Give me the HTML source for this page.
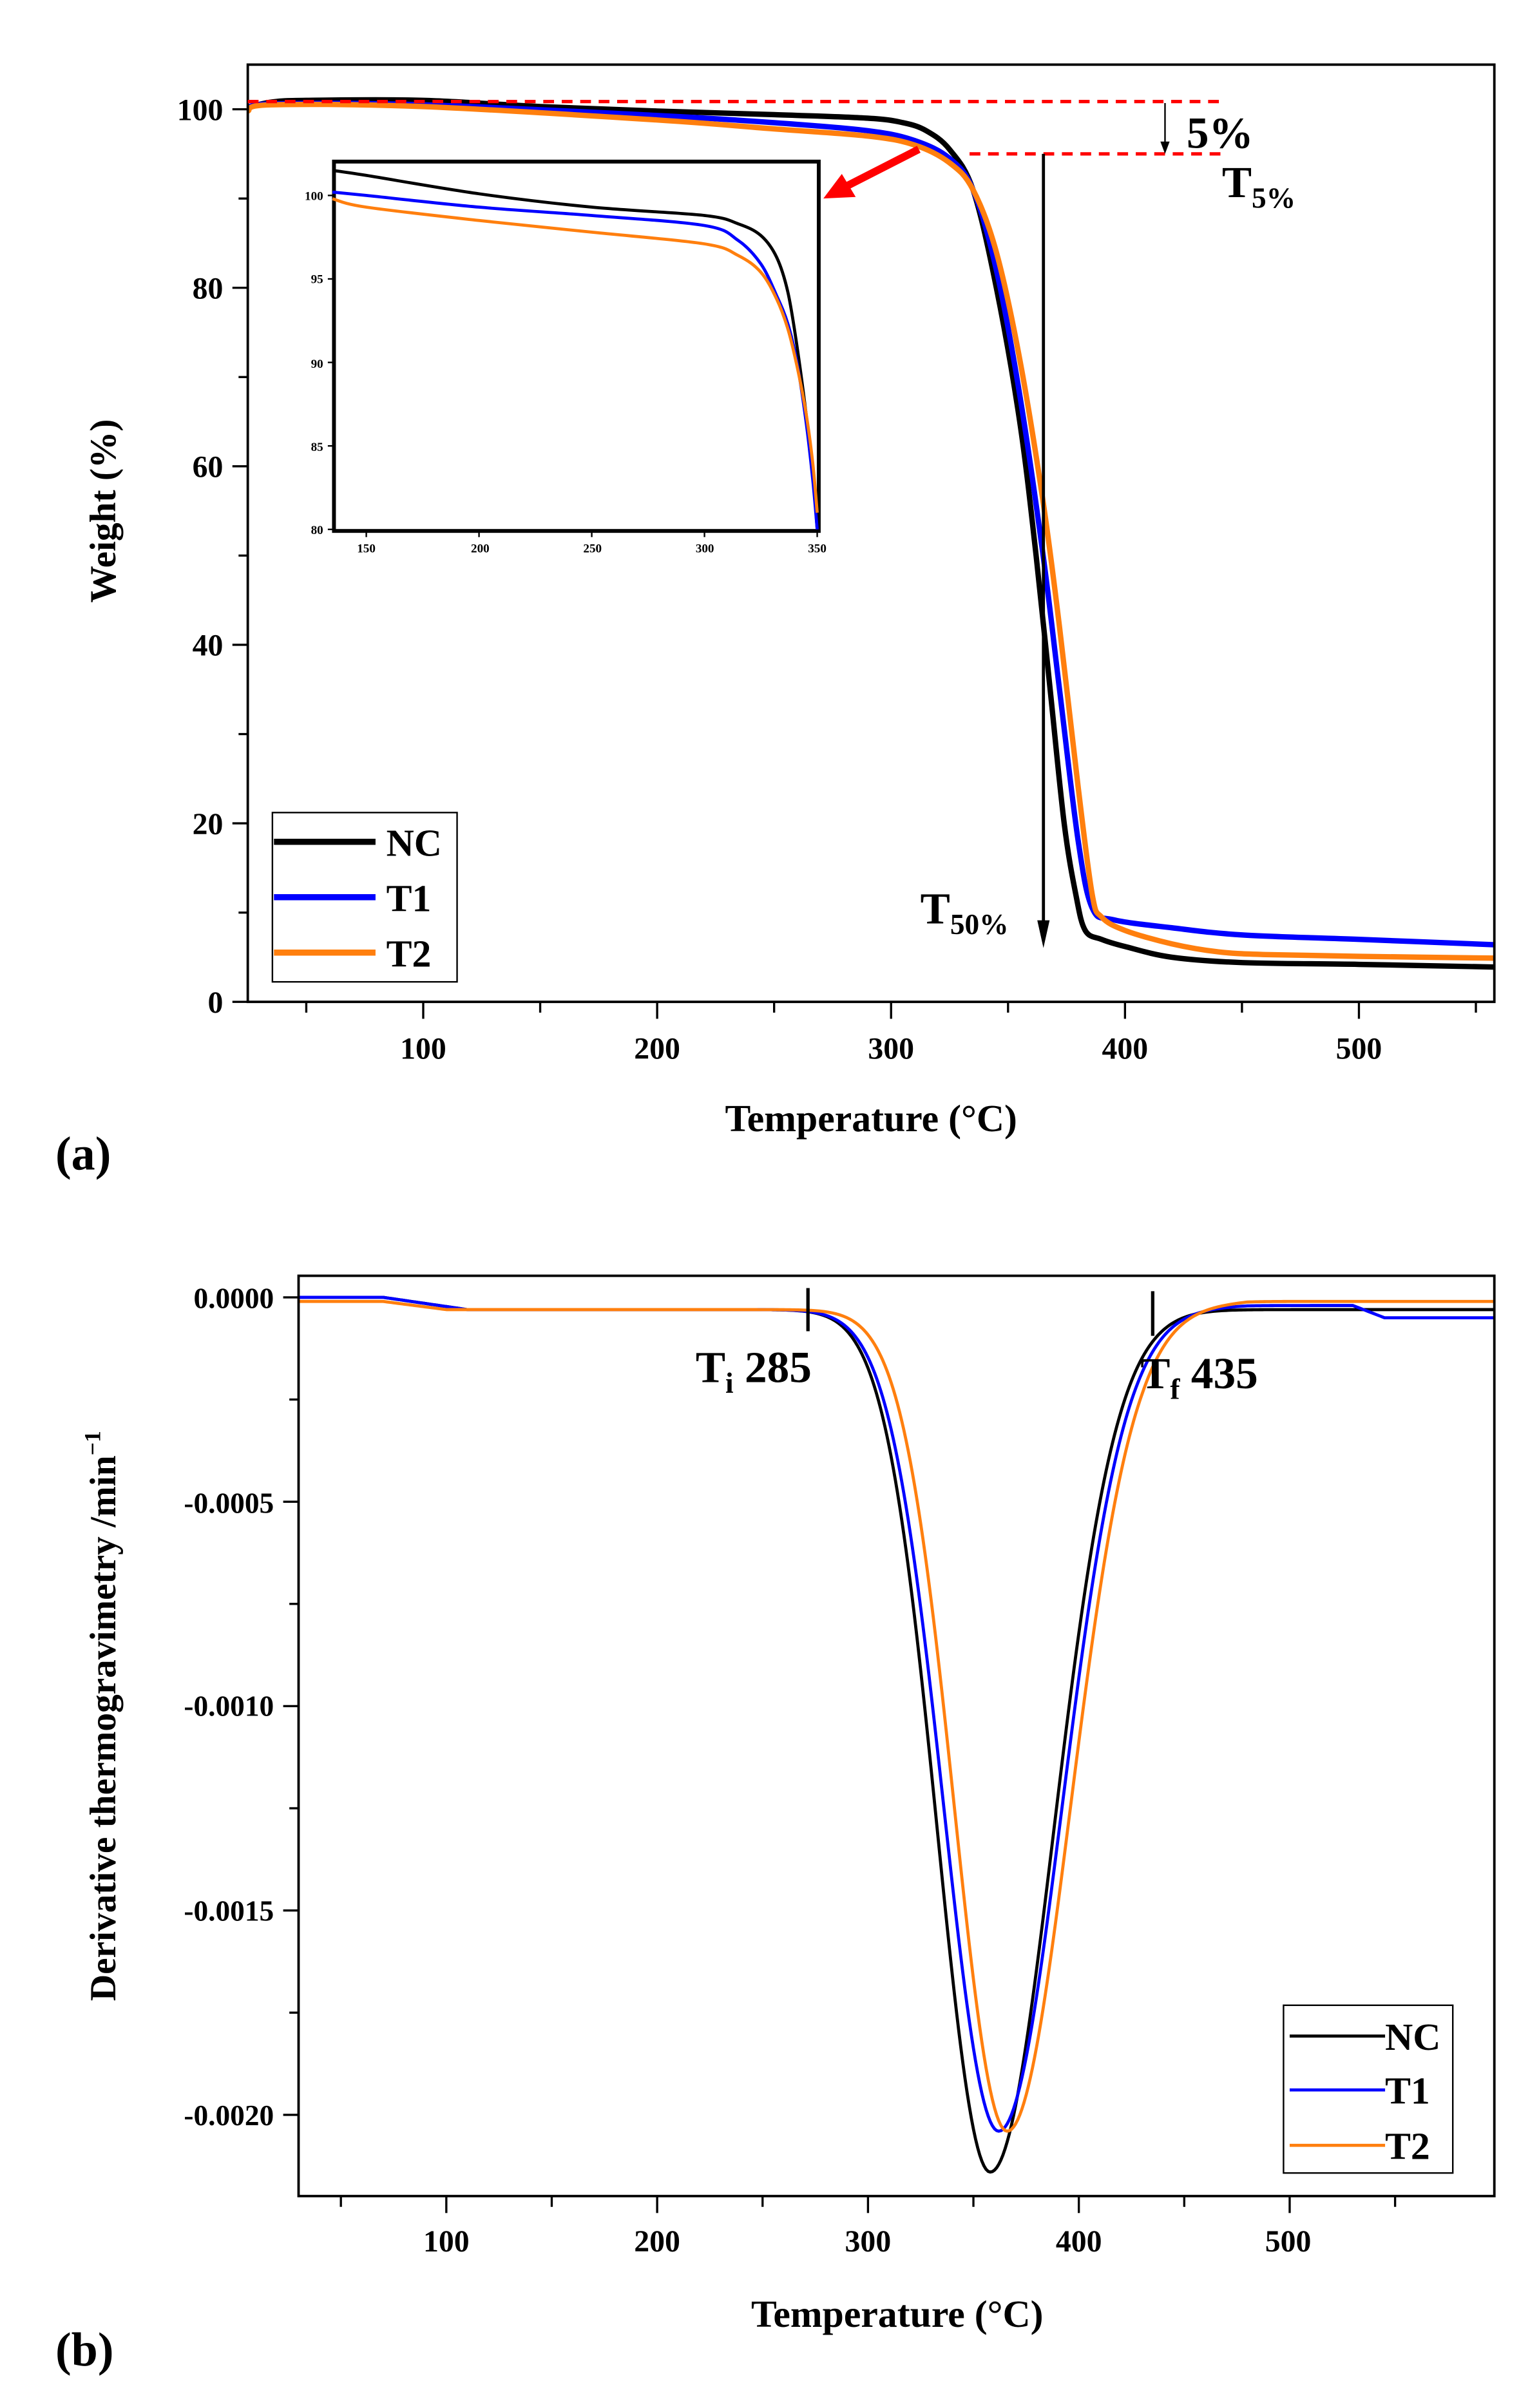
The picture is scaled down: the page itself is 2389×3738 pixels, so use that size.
<!DOCTYPE html>
<html><head><meta charset="utf-8"><style>
html,body{margin:0;padding:0;background:#fff;}
svg{display:block;}
text{font-family:"Liberation Serif",serif;font-weight:bold;fill:#000;}
</style></head><body>
<svg id="s" width="2389" height="3738" viewBox="0 0 1000 1564.7" xmlns="http://www.w3.org/2000/svg">
<rect width="1000" height="1565" fill="#fff"/>
<g id="g"></g>
<rect x="161" y="42" width="810" height="609" fill="none" stroke="#000" stroke-width="1.6"/>
<g font-size="20" text-anchor="end">
<text x="145" y="78">100</text><text x="145" y="194">80</text><text x="145" y="310">60</text>
<text x="145" y="426">40</text><text x="145" y="542">20</text><text x="145" y="658">0</text>
</g>
<g font-size="20" text-anchor="middle">
<text x="275" y="688">100</text><text x="427" y="688">200</text><text x="579" y="688">300</text>
<text x="731" y="688">400</text><text x="883" y="688">500</text>
</g>
<text font-size="25" x="566" y="735" text-anchor="middle">Temperature (°C)</text>
<text font-size="24" transform="translate(75,332) rotate(-90)" text-anchor="middle">Weight (%)</text>
<text font-size="31" x="36" y="760">(a)</text>
<line x1="161" y1="66" x2="792" y2="66" stroke="#f00" stroke-width="2.2" stroke-dasharray="7,5"/>
<line x1="630" y1="100" x2="797" y2="100" stroke="#f00" stroke-width="2.2" stroke-dasharray="7,5"/>
<line x1="757" y1="67" x2="757" y2="94" stroke="#000" stroke-width="1"/>
<polygon points="754,92 760,92 757,100" fill="#000"/>
<text font-size="29" x="771" y="96">5%</text>
<text font-size="29" x="794" y="128">T<tspan font-size="19" dy="7">5%</tspan></text>
<line x1="678" y1="100" x2="678" y2="600" stroke="#000" stroke-width="2"/>
<polygon points="674,598 682,598 678,616" fill="#000"/>
<text font-size="29" x="598" y="600">T<tspan font-size="19" dy="7">50%</tspan></text>
<line x1="597" y1="97" x2="550" y2="121" stroke="#f00" stroke-width="5"/>
<polygon points="535,129 547,113 556,128" fill="#f00"/>
<rect x="217" y="105" width="315" height="240" fill="#fff" stroke="#000" stroke-width="2.5"/>
<g font-size="8" text-anchor="end">
<text x="210" y="130">100</text><text x="210" y="184">95</text><text x="210" y="239">90</text>
<text x="210" y="293">85</text><text x="210" y="347">80</text>
</g>
<g font-size="8" text-anchor="middle">
<text x="238" y="359">150</text><text x="312" y="359">200</text><text x="385" y="359">250</text>
<text x="458" y="359">300</text><text x="531" y="359">350</text>
</g>
<g id="ins"></g>
<rect x="177" y="528" width="120" height="110" fill="#fff" stroke="#000" stroke-width="1"/>
<line x1="178" y1="547" x2="244" y2="547" stroke="#000" stroke-width="4"/>
<line x1="178" y1="583" x2="244" y2="583" stroke="#00f" stroke-width="4"/>
<line x1="178" y1="619" x2="244" y2="619" stroke="#ff7f0e" stroke-width="4"/>
<g font-size="25"><text x="251" y="556">NC</text><text x="251" y="592">T1</text><text x="251" y="628">T2</text></g>

<rect x="194" y="829" width="777" height="598" fill="none" stroke="#000" stroke-width="1.6"/>
<g font-size="19" text-anchor="end">
<text x="178" y="850">0.0000</text><text x="178" y="983">-0.0005</text><text x="178" y="1115">-0.0010</text>
<text x="178" y="1248">-0.0015</text><text x="178" y="1381">-0.0020</text>
</g>
<g font-size="20" text-anchor="middle">
<text x="290" y="1463">100</text><text x="427" y="1463">200</text><text x="564" y="1463">300</text>
<text x="701" y="1463">400</text><text x="837" y="1463">500</text>
</g>
<text font-size="25" x="583" y="1512" text-anchor="middle">Temperature (°C)</text>
<text font-size="24" transform="translate(75,1115) rotate(-90)" text-anchor="middle">Derivative thermogravimetry /min<tspan font-size="15" dy="-10">−1</tspan></text>
<text font-size="31" x="36" y="1537">(b)</text>
<line x1="525" y1="837" x2="525" y2="865" stroke="#000" stroke-width="2.2"/>
<line x1="749" y1="839" x2="749" y2="868" stroke="#000" stroke-width="2.2"/>
<text font-size="29" x="452" y="898">T<tspan font-size="19" dy="7">i</tspan><tspan dy="-7"> 285</tspan></text>
<text font-size="29" x="741" y="902">T<tspan font-size="19" dy="7">f</tspan><tspan dy="-7"> 435</tspan></text>
<rect x="834" y="1303" width="110" height="109" fill="#fff" stroke="#000" stroke-width="1"/>
<line x1="838" y1="1323" x2="900" y2="1323" stroke="#000" stroke-width="2"/>
<line x1="838" y1="1358" x2="900" y2="1358" stroke="#00f" stroke-width="2"/>
<line x1="838" y1="1394" x2="900" y2="1394" stroke="#ff7f0e" stroke-width="2"/>
<g font-size="25"><text x="900" y="1332">NC</text><text x="900" y="1367">T1</text><text x="900" y="1403">T2</text></g>
</svg>
<script>
var NS="http://www.w3.org/2000/svg",g=document.getElementById('g'),ins=document.getElementById('ins');
function el(p,t,a){var e=document.createElementNS(NS,t);for(var k in a)e.setAttribute(k,a[k]);p.appendChild(e);return e;}
function line(p,x1,y1,x2,y2,w){el(p,'line',{x1:x1,y1:y1,x2:x2,y2:y2,stroke:'#000','stroke-width':w||1.4});}
var tx=function(t){return 275+(t-100)*1.52;}, ty=function(v){return 651-v*5.8;};
for(var t=50;t<=550;t+=50){var x=tx(t);line(g,x,651,x,t%100?658:662);}
for(var v=0;v<=100;v+=10){var y=ty(v);line(g,161,y,v%20?155:151,y);}
var ix=function(t){return 238+(t-150)*1.465;}, iy=function(v){return 127+(100-v)*10.85;};
for(var t=150;t<=350;t+=50){line(g,ix(t),345,ix(t),349,1);}
for(var v=80;v<=100;v+=5){line(g,217,iy(v),213,iy(v),1);}
var bx=function(t){return 290+(t-100)*1.37;}, by=function(v){return 843-v*265600;};
for(var t=50;t<=550;t+=50){var x=bx(t);line(g,x,1427,x,t%100?1434:1438);}
for(var v=0;v>=-0.00225;v-=0.00025){var y=by(v);line(g,194,y,(Math.round(v*4000)%2)?188:184,y);}
function path(p,pts,fx,fy,c,w,smooth){
 var P=pts.map(function(q){return [fx(q[0]),fy(q[1])];});var d='M'+P[0][0].toFixed(2)+','+P[0][1].toFixed(2);
 for(var i=0;i<P.length-1;i++){
  if(!smooth){d+='L'+P[i+1][0].toFixed(2)+','+P[i+1][1].toFixed(2);continue;}
  var p0=P[i-1]||P[i],p1=P[i],p2=P[i+1],p3=P[i+2]||P[i+1];
  var c1=[p1[0]+(p2[0]-p0[0])/6,p1[1]+(p2[1]-p0[1])/6],c2=[p2[0]-(p3[0]-p1[0])/6,p2[1]-(p3[1]-p1[1])/6];
  d+='C'+c1[0].toFixed(2)+','+c1[1].toFixed(2)+' '+c2[0].toFixed(2)+','+c2[1].toFixed(2)+' '+p2[0].toFixed(2)+','+p2[1].toFixed(2);}
 el(p,'path',{d:d,fill:'none',stroke:c,'stroke-width':w,'stroke-linejoin':'round'});}
var NC=[[25,100.2],[35,100.8],[50,101],[100,101],[150,100.3],[200,99.8],[250,99.4],[290,99],[305,98.5],[315,97.6],[325,95.5],[335,91],[345,80],[355,65],[362,50],[368,35],[374,20],[379,12],[383,8],[390,7],[400,6.2],[420,5],[450,4.4],[500,4.2],[558,3.9]];
var T1=[[25,100],[35,100.6],[100,100.5],[200,99.3],[250,98.5],[290,97.6],[310,96.5],[325,94.5],[335,91],[345,82],[355,68],[365,50],[372,35],[380,18],[386,10.5],[395,9.2],[420,8.3],[450,7.5],[500,7],[558,6.4]];
var T2=[[25,99.8],[35,100.5],[100,100.3],[200,98.8],[250,97.8],[290,97],[310,96],[325,94],[335,91],[345,84],[355,72],[365,56],[372,42],[380,24],[386,12],[390,9.5],[400,8],[420,6.5],[440,5.6],[460,5.3],[500,5.1],[558,4.9]];
path(g,NC,tx,ty,'#000',3.5,true);path(g,T1,tx,ty,'#00f',3.5,true);path(g,T2,tx,ty,'#ff7f0e',3.5,true);
var iNC=[[135,101.5],[150,101.2],[200,100.1],[250,99.3],[300,98.8],[315,98.3],[325,97.6],[332,96.3],[337,94.2],[341,91],[345,87],[348,83.5],[350,80]];
var iT1=[[135,100.2],[150,100],[200,99.3],[250,98.8],[300,98.2],[315,97.3],[325,95.9],[332,94],[337,92.3],[341,90],[345,86.5],[348,83],[350,80]];
var iT2=[[135,99.8],[150,99.3],[200,98.5],[250,97.8],[300,97.1],[315,96.4],[325,95.4],[332,93.8],[337,92],[341,89.8],[345,87],[348,84],[350,81]];
path(ins,iNC,ix,iy,'#000',2,true);path(ins,iT1,ix,iy,'#00f',2,true);path(ins,iT2,ix,iy,'#ff7f0e',2,true);
function dtg(A,c,sl,sr,base){var pts=[];for(var t=30;t<=597;t+=1){var s=t<c?sl:sr;var v=-A*Math.exp(-(t-c)*(t-c)/(2*s*s))+base(t);pts.push([t,v]);}return pts;}
function sm(t,a,b){return t<=a?0:t>=b?1:(t-a)/(b-a);}
path(g,dtg(0.00211,358,25,30,function(t){return -0.00003*sm(t,70,110);}),bx,by,'#000',2);
path(g,dtg(0.00201,362,26,30,function(t){return -0.00003*sm(t,70,110)+0.00001*sm(t,430,480)-0.00003*sm(t,530,545);}),bx,by,'#00f',2);
path(g,dtg(0.00201,366,25,30,function(t){return -0.00001-0.00002*sm(t,70,100)+0.00002*sm(t,430,480);}),bx,by,'#ff7f0e',2);
</script>
</body></html>
